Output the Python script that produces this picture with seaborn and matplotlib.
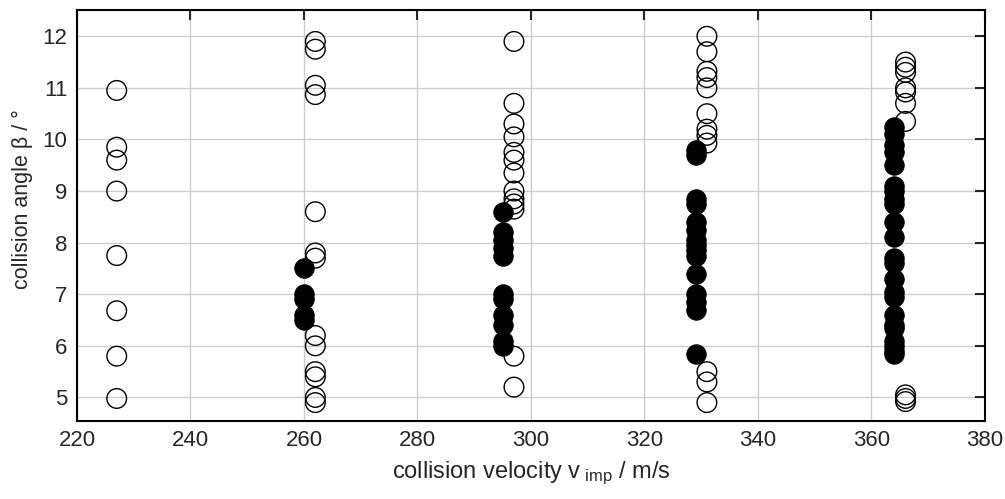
import numpy as np
import pandas as pd
import matplotlib
matplotlib.use("Agg")
import matplotlib.pyplot as plt
import seaborn as sns

# collision velocity (m/s) of each test series
v_open = [227, 262, 297, 331, 366]
v_filled = [260, 295, 329, 364]

# collision angles, open markers (one list per velocity)
beta_open = [
    [10.95, 9.85, 9.6, 9.0, 7.75, 6.68, 5.8, 4.98],
    [11.9, 11.75, 11.05, 10.87, 8.6, 7.8, 7.7, 6.2, 6.0, 5.5, 5.4, 5.0, 4.9],
    [11.9, 10.7, 10.3, 10.05, 9.75, 9.6, 9.35, 9.0, 8.85, 8.75, 8.65, 5.8, 5.2],
    [12.0, 11.7, 11.32, 11.2, 11.0, 10.5, 10.2, 10.08, 9.93, 5.5, 5.3, 4.9],
    [11.5, 11.4, 11.3, 11.0, 10.92, 10.7, 10.35, 5.05, 4.98, 4.92],
]

# collision angles, filled markers
beta_filled = [
    [7.5, 7.0, 6.9, 6.6, 6.5],
    [8.6, 8.2, 8.05, 7.9, 7.75, 7.0, 6.9, 6.6, 6.4, 6.1, 6.0],
    [9.8, 9.7, 8.85, 8.75, 8.4, 8.25, 8.05, 7.95, 7.85, 7.75, 7.4,
     7.0, 6.85, 6.7, 5.85],
    [10.25, 10.1, 9.9, 9.75, 9.5, 9.1, 9.0, 8.85, 8.75, 8.4, 8.1,
     7.7, 7.6, 7.3, 7.05, 6.95, 6.6, 6.4, 6.35, 6.1, 6.0, 5.9, 5.85],
]

df_open = pd.DataFrame({
    "v": [v for v, b in zip(v_open, beta_open) for _ in b],
    "beta": [x for b in beta_open for x in b],
})
df_filled = pd.DataFrame({
    "v": [v for v, b in zip(v_filled, beta_filled) for _ in b],
    "beta": [x for b in beta_filled for x in b],
})

sns.set_style("white")
plt.rcParams["font.family"] = ["Liberation Sans", "DejaVu Sans"]
plt.rcParams["mathtext.fontset"] = "custom"
plt.rcParams["mathtext.rm"] = "Liberation Sans"
plt.rcParams["mathtext.it"] = "Liberation Sans"

fig = plt.figure(figsize=(10.05, 4.99), dpi=100)
ax = fig.add_axes([0.0766, 0.157, 0.9035, 0.822])

sns.scatterplot(data=df_open, x="v", y="beta", ax=ax, s=200,
                facecolor="none", edgecolor="black", linewidth=1.0, zorder=3)
sns.scatterplot(data=df_filled, x="v", y="beta", ax=ax, s=200,
                color="black", edgecolor="black", linewidth=0.5, zorder=4)

ax.set_xlim(220, 380)
ax.set_ylim(4.55, 12.5)
ax.set_xticks(np.arange(220, 381, 20))
ax.set_yticks(np.arange(5, 13, 1))
ax.grid(True, color="#cccccc", linewidth=1.0, zorder=0)
ax.set_axisbelow(True)
ax.tick_params(direction="in", length=7.5, width=1.5, labelsize=16,
               top=True, right=True, pad=7)
for sp in ax.spines.values():
    sp.set_linewidth(1.5)
    sp.set_color("black")

ax.set_xlabel(r"collision velocity v$_{\ \mathrm{imp}}$ / m/s", fontsize=17, labelpad=6)
ax.set_ylabel("collision angle β / °", fontsize=15.5)
ax.yaxis.set_label_coords(-0.048, 0.54)

fig.savefig("out.png", dpi=100)
